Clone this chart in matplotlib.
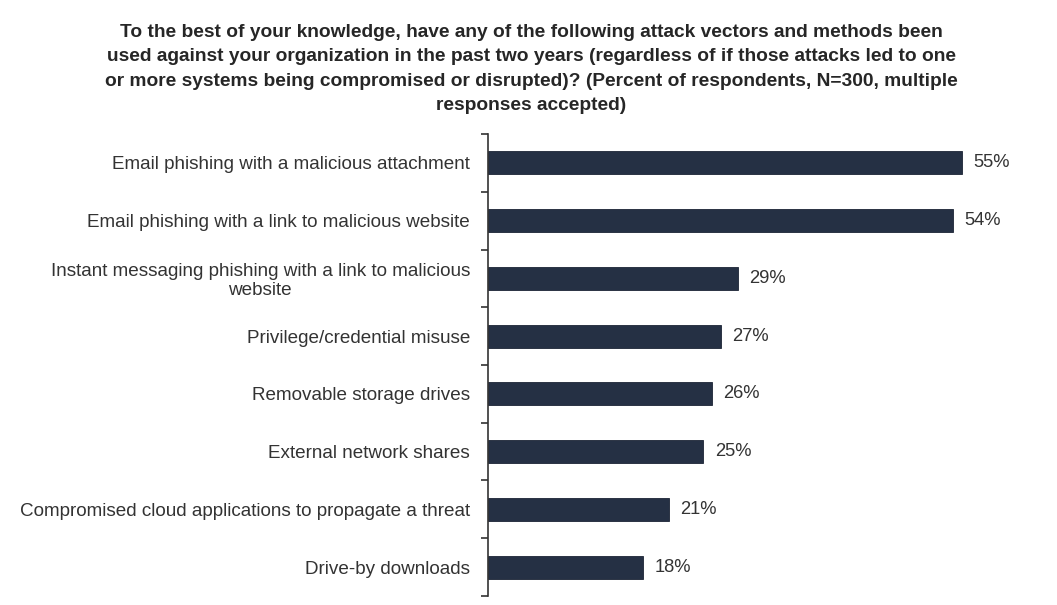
import numpy as np
import matplotlib.pyplot as plt

# categorias y porcentajes
categorias = [
    "Email phishing with a malicious attachment",
    "Email phishing with a link to malicious website",
    "Instant messaging phishing with a link to malicious\nwebsite",
    "Privilege/credential misuse",
    "Removable storage drives",
    "External network shares",
    "Compromised cloud applications to propagate a threat",
    "Drive-by downloads",
]
valores = [55, 54, 29, 27, 26, 25, 21, 18]

titulo = ("To the best of your knowledge, have any of the following attack vectors and methods been\n"
          "used against your organization in the past two years (regardless of if those attacks led to one\n"
          "or more systems being compromised or disrupted)? (Percent of respondents, N=300, multiple\n"
          "responses accepted)")

plt.rcParams['font.family'] = ['Liberation Sans', 'DejaVu Sans']

fig = plt.figure(figsize=(10.57, 6.05), dpi=100)
ax = fig.add_axes([0.4617, 0.0149, 0.4891, 0.7636])

y = np.arange(len(categorias))
ax.barh(y, valores, height=0.4, color="#253044", edgecolor="#1b2435", linewidth=0.6)

# etiquetas de valor al final de cada barra
for yi, v in zip(y, valores):
    ax.text(v + 1.3, yi, f"{v}%", va="center", ha="left", fontsize=13.2, color="#333333")

ax.set_yticks(y)
ax.set_yticklabels(categorias, fontsize=13.6, color="#333333", multialignment="center",
                   linespacing=1.1)
ax.set_yticks(np.arange(len(categorias) + 1) - 0.5, minor=True)
ax.tick_params(axis="y", which="major", length=0, pad=13)
ax.tick_params(axis="y", which="minor", length=5, width=1.2, color="#333333")
ax.set_ylim(len(categorias) - 0.5, -0.5)
ax.set_xlim(0, 60)
ax.set_xticks([])

for s in ["top", "right", "bottom"]:
    ax.spines[s].set_visible(False)
ax.spines["left"].set_linewidth(1.2)
ax.spines["left"].set_color("#333333")

fig.text(0.5024, 0.960, titulo, ha="center", va="top", fontsize=13.8,
         fontweight="bold", color="#262626", linespacing=1.55)

fig.savefig("out.png", dpi=100)
